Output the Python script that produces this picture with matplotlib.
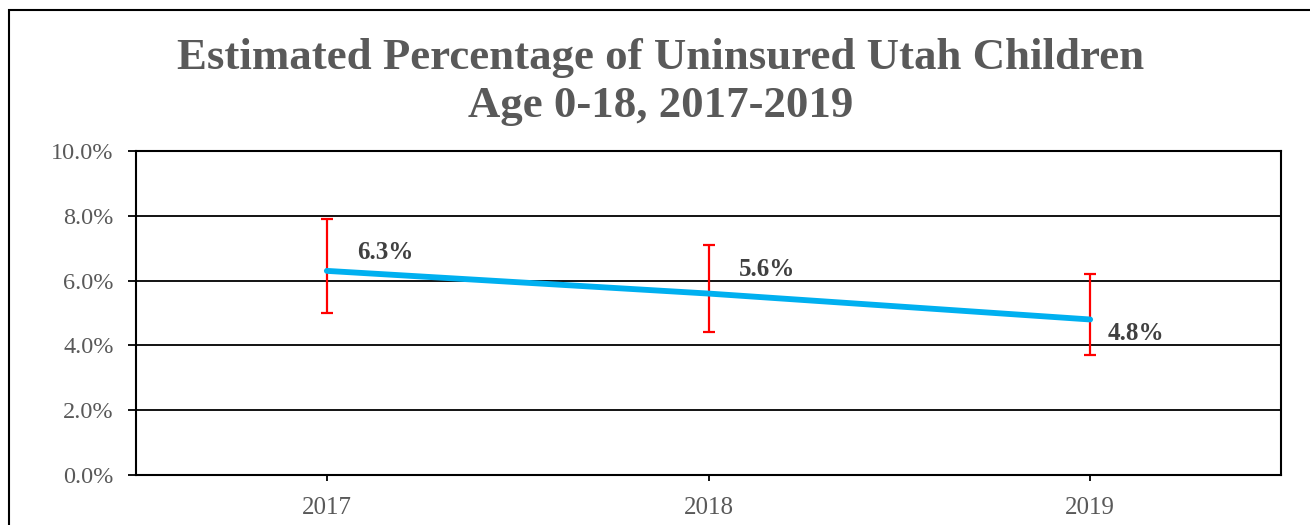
import matplotlib
matplotlib.use('Agg')
import matplotlib.pyplot as plt
from matplotlib.ticker import FuncFormatter
import matplotlib.patches as mpatches

plt.rcParams['font.family'] = ['Liberation Serif', 'DejaVu Serif']

years = ['2017', '2018', '2019']
pct = [6.3, 5.6, 4.8]
ci_low = [5.0, 4.4, 3.7]
ci_high = [7.9, 7.1, 6.2]

# label offsets in px from each point
label_dx = [30, 30, 17]
label_dy = [18, 24, -14]

gray = '#595959'
x = list(range(len(years)))
err = [[p - lo for p, lo in zip(pct, ci_low)], [hi - p for p, hi in zip(pct, ci_high)]]

fig = plt.figure(figsize=(13.1, 5.25), dpi=100)
ax = fig.add_axes([136/1310, 50/525, 1145/1310, 324/525])

# outer chart border
fig.patches.append(mpatches.Rectangle((9/1310, -0.1), 1.2, (515/525) + 0.1, transform=fig.transFigure,
                                      fill=False, edgecolor='black', linewidth=1.5, zorder=-1))

ax.errorbar(x, pct, yerr=err, fmt='none', ecolor='red', elinewidth=1.6, capsize=4.5, capthick=1.6, zorder=3)
ax.plot(x, pct, color='#00B0F0', linewidth=4.2, solid_capstyle='round', zorder=4)

for xi, p, dx, dy in zip(x, pct, label_dx, label_dy):
    ax.annotate(f'{p:.1f}%', (xi, p), xytext=(dx, dy), textcoords='offset pixels',
                ha='left', va='center', fontsize=18, fontweight='bold', color='#404040', zorder=5)

ax.set_xlim(-0.5, 2.5)
ax.set_ylim(0, 10)
ax.set_yticks([0, 2, 4, 6, 8, 10])
ax.yaxis.set_major_formatter(FuncFormatter(lambda v, _: f'{v:.1f}%'))
ax.set_xticks(x)
ax.set_xticklabels(years)
ax.grid(axis='y', color='black', linewidth=1.3)
ax.set_axisbelow(True)
for s in ax.spines.values():
    s.set_linewidth(1.5)
    s.set_color('black')
ax.tick_params(axis='y', length=6, width=1.3, colors='black', labelcolor=gray, labelsize=17.5, pad=10)
ax.tick_params(axis='x', length=4.5, width=1.3, colors='black', labelcolor=gray, labelsize=18, pad=11)

fig.text(0.504, 1 - 58/525, 'Estimated Percentage of Uninsured Utah Children', ha='center', va='center',
         fontsize=32.3, fontweight='bold', color=gray)
fig.text(0.504, 1 - 106/525, 'Age 0-18, 2017-2019', ha='center', va='center',
         fontsize=32.3, fontweight='bold', color=gray)

fig.savefig('out.png', dpi=100)
